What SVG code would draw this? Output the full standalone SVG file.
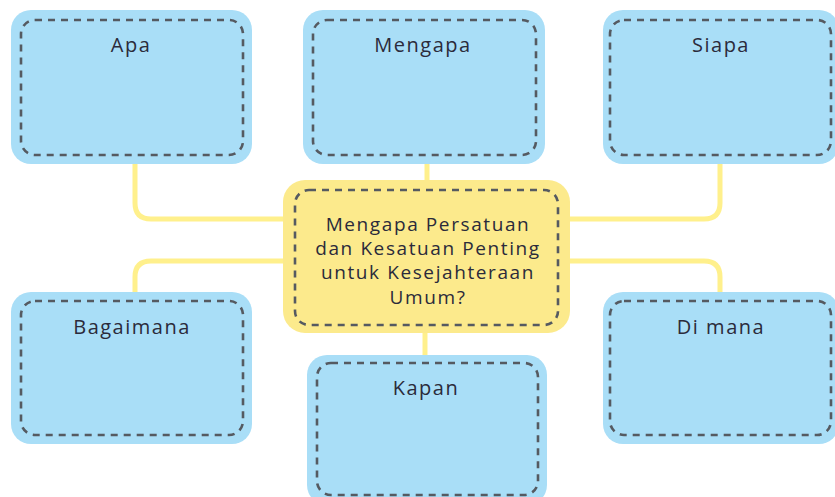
<svg xmlns="http://www.w3.org/2000/svg" width="835" height="497" viewBox="0 0 835 497">
<style>
.outer{fill:#a9def7}
.inner{fill:none;stroke:#555a61;stroke-width:2.6;stroke-dasharray:7 6}
.cout{fill:#fcea8c}
.conn{fill:none;stroke:#fff08c;stroke-width:5;stroke-linecap:butt}
text{font-family:"Open Sans","Noto Sans",sans-serif;font-size:20px;fill:#2b2b3b;text-anchor:middle;letter-spacing:1.5px}
.ct{font-size:19px;letter-spacing:1.6px}
</style>
<rect width="835" height="497" fill="#ffffff"/>
<g id="connectors">
<path class="conn" d="M135,164 V203 Q135,219 151,219 H290"/>
<path class="conn" d="M720,164 V203 Q720,219 704,219 H565"/>
<path class="conn" d="M135,292 V277 Q135,261 151,261 H290"/>
<path class="conn" d="M720,292 V277 Q720,261 704,261 H565"/>
<path class="conn" d="M427,162 V184"/>
<path class="conn" d="M425,329 V358"/>
</g>
<g id="apa">
<rect class="outer" x="11" y="10" width="241" height="154" rx="20"/>
<rect class="inner" x="21" y="20" width="222" height="135" rx="14"/>
<text x="131" y="52">Apa</text>
</g>
<g id="mengapa">
<rect class="outer" x="303" y="10" width="242" height="154" rx="20"/>
<rect class="inner" x="313" y="20" width="223" height="135" rx="14"/>
<text x="423" y="52">Mengapa</text>
</g>
<g id="siapa">
<rect class="outer" x="603" y="10" width="236" height="154" rx="20"/>
<rect class="inner" x="610" y="20" width="221" height="135" rx="14"/>
<text x="721" y="52">Siapa</text>
</g>
<g id="center">
<rect class="cout" x="283" y="180" width="287" height="153" rx="22"/>
<rect class="inner" x="295" y="190" width="263" height="135" rx="14"/>
<text class="ct" x="428" y="231">Mengapa Persatuan</text>
<text class="ct" x="428" y="255">dan Kesatuan Penting</text>
<text class="ct" x="428" y="279">untuk Kesejahteraan</text>
<text class="ct" x="428" y="304">Umum?</text>
</g>
<g id="bagaimana">
<rect class="outer" x="11" y="292" width="241" height="152" rx="20"/>
<rect class="inner" x="21" y="301" width="222" height="134" rx="14"/>
<text x="132" y="334">Bagaimana</text>
</g>
<g id="dimana">
<rect class="outer" x="603" y="292" width="236" height="152" rx="20"/>
<rect class="inner" x="610" y="301" width="221" height="134" rx="14"/>
<text x="721" y="334">Di mana</text>
</g>
<g id="kapan">
<rect class="outer" x="307" y="355" width="240" height="150" rx="20"/>
<rect class="inner" x="317" y="363" width="221" height="132" rx="14"/>
<text x="426" y="395">Kapan</text>
</g>
</svg>
